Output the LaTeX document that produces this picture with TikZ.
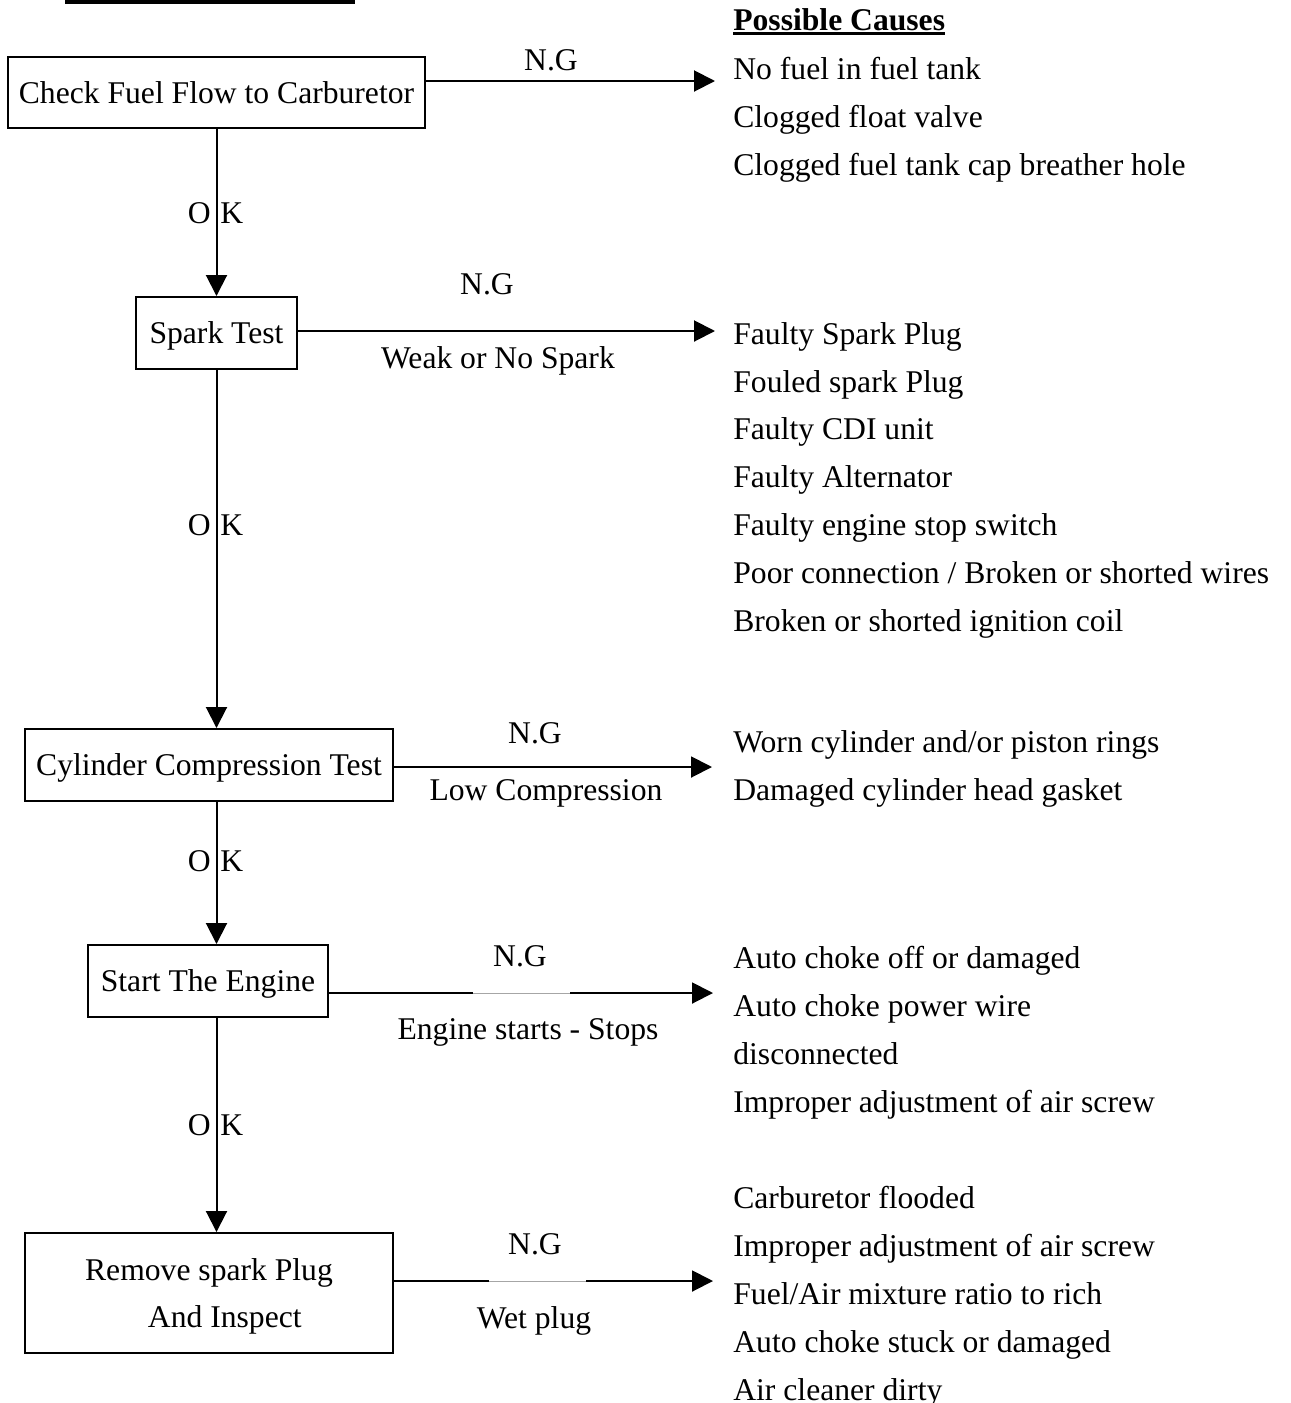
\documentclass[tikz,border=0pt]{standalone}
\usepackage{fontspec}
\setmainfont{Liberation Serif}
\usetikzlibrary{arrows.meta}

\begin{document}
\begin{tikzpicture}[x=0.02cm, y=-0.02cm,
  font=\fontsize{18}{27.2}\selectfont,
  stepbox/.style={draw, line width=0.04cm, inner sep=0pt, minimum height=1.44cm,
                  text height=0.42cm, text depth=0pt},
  conn/.style={line width=0.04cm},
  arr/.style={conn, -{Triangle[length=0.42cm, width=0.42cm]}},
  gap/.style={gray!70, line width=0.02cm},
  lab/.style={inner sep=0pt, anchor=base},
  cause/.style={align=left, inner sep=0pt, anchor=base west}]
  \useasboundingbox (0,0) rectangle (1291,1403);
  \fill (65,0) rectangle (355,4);
  % steps
  \node[stepbox, minimum width=8.34cm, minimum height=1.42cm] (fuel) at (216.5,92.5) {Check Fuel Flow to Carburetor};
  \node[stepbox, minimum width=3.22cm] (spark) at (216.5,333) {Spark Test};
  \node[stepbox, minimum width=7.36cm] (comp) at (209,765) {Cylinder Compression Test};
  \node[stepbox, minimum width=4.8cm] (start) at (208,981) {Start The Engine};
  \node[draw, line width=0.04cm, align=center, text depth=0pt, minimum width=7.36cm, minimum height=2.4cm] (plug) at (209,1293) {Remove spark Plug\\\hspace*{1em}And Inspect};
  % arrow tips
  \coordinate (t1) at (715,81);
  \coordinate (t2) at (715,331);
  \coordinate (t3) at (712,767);
  \coordinate (t4) at (713,993);
  \coordinate (t5) at (713,1281);
  \coordinate (g4a) at (473,993);
  \coordinate (g4b) at (570,993);
  \coordinate (g5a) at (489,1281);
  \coordinate (g5b) at (586,1281);
  % OK path
  \draw[arr] (fuel.south) -- (spark.north);
  \draw[arr] (spark.south) -- (comp.north -| spark.south);
  \draw[arr] (comp.south -| fuel.south) -- (start.north -| fuel.south);
  \draw[arr] (start.south -| fuel.south) -- (plug.north -| fuel.south);
  \node[lab, anchor=base east] (ok1o) at (211,223) {O};
  \node[lab, anchor=base west] (ok1k) at (220,223) {K};
  \node[lab, anchor=base east] (ok2o) at (211,535) {O};
  \node[lab, anchor=base west] (ok2k) at (220,535) {K};
  \node[lab, anchor=base east] (ok3o) at (211,871) {O};
  \node[lab, anchor=base west] (ok3k) at (220,871) {K};
  \node[lab, anchor=base east] (ok4o) at (211,1135) {O};
  \node[lab, anchor=base west] (ok4k) at (220,1135) {K};
  % N.G path
  \draw[arr] (fuel.east |- t1) -- (t1);
  \draw[arr] (spark.east |- t2) -- (t2);
  \draw[arr] (comp.east |- t3) -- (t3);
  \draw[conn] (start.east |- t4) -- (g4a);
  \draw[gap] (g4a) -- (g4b);
  \draw[arr] (g4b) -- (t4);
  \draw[conn] (plug.east |- t5) -- (g5a);
  \draw[gap] (g5a) -- (g5b);
  \draw[arr] (g5b) -- (t5);
  \node[lab] (ng1) at (551,70) {N.G};
  \node[lab] (ng2) at (487,294) {N.G};
  \node[lab] (weak) at (498,368) {Weak or No Spark};
  \node[lab] (ng3) at (535,743) {N.G};
  \node[lab] (low) at (546,800) {Low Compression};
  \node[lab] (ng4) at (520,966) {N.G};
  \node[lab] (stops) at (528,1039) {Engine starts - Stops};
  \node[lab] (ng5) at (535,1254) {N.G};
  \node[lab] (wet) at (534,1328) {Wet plug};
  % causes (base = last line)
  \node[cause] (hdr) at (733,30) {\bfseries Possible Causes};
  \draw[line width=0.06cm] ([yshift=-0.07cm]hdr.base west) -- ([yshift=-0.07cm]hdr.base east);
  \node[cause] (c1) at (733,175) {No fuel in fuel tank\\Clogged float valve\\Clogged fuel tank cap breather hole};
  \node[cause] (c2) at (733,631) {Faulty Spark Plug\\Fouled spark Plug\\Faulty CDI unit\\Faulty Alternator\\Faulty engine stop switch\\Poor connection / Broken or shorted wires\\Broken or shorted ignition coil};
  \node[cause] (c3) at (733,800) {Worn cylinder and/or piston rings\\Damaged cylinder head gasket};
  \node[cause] (c4) at (733,1112) {Auto choke off or damaged\\Auto choke power wire\\disconnected\\Improper adjustment of air screw};
  \node[cause] (c5) at (733,1400) {Carburetor flooded\\Improper adjustment of air screw\\Fuel/Air mixture ratio to rich\\Auto choke stuck or damaged\\Air cleaner dirty};
\end{tikzpicture}
\end{document}
